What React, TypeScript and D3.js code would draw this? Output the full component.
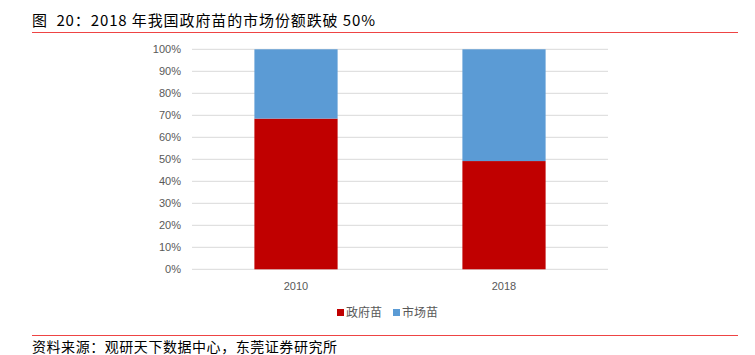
import React from "react";
import * as d3 from "d3";

const categories = ["2010", "2018"];
const governmentShare = [0.685, 0.492];
const marketShare = [0.315, 0.508];
const seriesNames = ["政府苗", "市场苗"];
const seriesColors = ["#C00000", "#5B9BD5"];
const yTicks = [0, 0.1, 0.2, 0.3, 0.4, 0.5, 0.6, 0.7, 0.8, 0.9, 1.0];
const titleText = "图  20：2018 年我国政府苗的市场份额跌破 50%";
const sourceText = "资料来源：观研天下数据中心，东莞证券研究所";

const W = 755;
const H = 355;
const plot = { left: 192, right: 608, top: 49.3, bottom: 269.3 };
const cjk = "'Noto Sans CJK SC', 'Noto Sans', sans-serif";

export default function App() {
  const x = d3.scaleBand<string>().domain(categories).range([plot.left, plot.right]).padding(0);
  const y = d3.scaleLinear().domain([0, 1]).range([plot.bottom, plot.top]);
  const barW = x.bandwidth() * 0.4;
  const stack = d3
    .stack<any>()
    .keys(["gov", "mkt"])(categories.map((c, i) => ({ c, gov: governmentShare[i], mkt: marketShare[i] })));

  return (
    <svg
      width={W}
      height={H}
      style={{ position: "absolute", left: 0, top: 0, background: "#fff" }}
    >
      <text
        x={32}
        y={26}
        fontSize={15}
        fill="#000"
        fontFamily={cjk}
        textLength={343}
        lengthAdjust="spacing"
        style={{ whiteSpace: "pre" }}
      >
        {titleText}
      </text>
      <line x1={32} x2={738} y1={32.5} y2={32.5} stroke="#ee4444" strokeWidth={1} />
      {yTicks.map((t) => (
        <g key={t}>
          <line x1={plot.left} x2={plot.right} y1={y(t)} y2={y(t)} stroke="#d9d9d9" strokeWidth={1} />
          <text
            x={181}
            y={y(t)}
            dy="0.35em"
            textAnchor="end"
            fontSize={11}
            fill="#595959"
            fontFamily="'Liberation Sans', Arial, sans-serif"
          >
            {d3.format(".0%")(t)}
          </text>
        </g>
      ))}
      {stack.map((layer, li) =>
        layer.map((d, i) => (
          <rect
            key={li + "-" + i}
            x={(x(categories[i]) as number) + (x.bandwidth() - barW) / 2}
            width={barW}
            y={y(d[1])}
            height={y(d[0]) - y(d[1])}
            fill={seriesColors[li]}
          />
        ))
      )}
      {categories.map((c) => (
        <text
          key={c}
          x={(x(c) as number) + x.bandwidth() / 2}
          y={290}
          textAnchor="middle"
          fontSize={11}
          fill="#595959"
          fontFamily="'Liberation Sans', Arial, sans-serif"
        >
          {c}
        </text>
      ))}
      {seriesNames.map((n, i) => (
        <g key={n} transform={`translate(${337 + i * 56},0)`}>
          <rect x={0} y={309} width={7} height={7} fill={seriesColors[i]} />
          <text x={9} y={317} fontSize={12} fill="#595959" fontFamily={cjk}>
            {n}
          </text>
        </g>
      ))}
      <line x1={32} x2={738} y1={335.5} y2={335.5} stroke="#ee4444" strokeWidth={1} />
      <text
        x={32}
        y={352}
        fontSize={14}
        fill="#000"
        fontFamily={cjk}
        textLength={305}
        lengthAdjust="spacing"
      >
        {sourceText}
      </text>
    </svg>
  );
}
